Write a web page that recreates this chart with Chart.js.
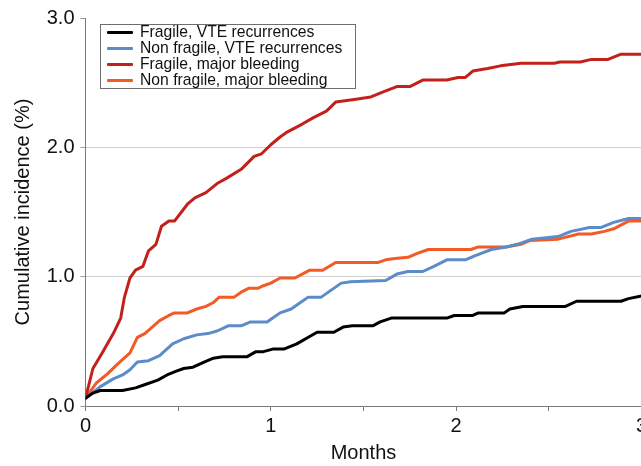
<!DOCTYPE html>
<html>
<head>
<meta charset="utf-8">
<script src="https://cdn.jsdelivr.net/npm/chart.js@4/dist/chart.umd.min.js"></script>
<style>
  html, body { margin: 0; padding: 0; background: #fff; overflow: hidden; }
  #wrap { position: relative; width: 650px; height: 466px; }
  #legend {
    position: absolute; left: 100px; top: 24px; width: 254px; height: 63px;
    border: 1px solid #6e6e6e; background: #fff;
    font-family: "Liberation Sans", Arial, Helvetica, sans-serif; font-size: 15.7px;
    line-height: 16px; color: #111; box-sizing: content-box;
  }
  #legend .row { position: relative; height: 16px; white-space: nowrap; }
  #legend .sw { position: absolute; left: 6px; top: 6px; width: 26px; height: 3px; border-radius: 1px; }
  #legend .tx { position: absolute; left: 39px; top: -1px; }
</style>
</head>
<body>
<div id="wrap">
  <canvas id="c"></canvas>
  <div id="legend"></div>
</div>
<script>
// ---- data ----
const seriesLabels = [
  "Fragile, VTE recurrences",
  "Non fragile, VTE recurrences",
  "Fragile, major bleeding",
  "Non fragile, major bleeding"
];
const seriesColors = ["#000000", "#5b8cc8", "#c3201b", "#f25a26"];

const fragileVteMonths = [0, 0.04, 0.08, 0.20, 0.27, 0.33, 0.39, 0.44, 0.49, 0.53, 0.58, 0.64, 0.69, 0.74, 0.87, 0.92, 0.96, 1.01, 1.07, 1.14, 1.20, 1.25, 1.34, 1.39, 1.44, 1.55, 1.59, 1.65, 1.95, 1.99, 2.09, 2.12, 2.26, 2.29, 2.36, 2.59, 2.65, 2.89, 2.93, 3.00];
const fragileVteValues = [0.06, 0.10, 0.12, 0.12, 0.14, 0.17, 0.20, 0.24, 0.27, 0.29, 0.30, 0.34, 0.37, 0.38, 0.38, 0.42, 0.42, 0.44, 0.44, 0.48, 0.53, 0.57, 0.57, 0.61, 0.62, 0.62, 0.65, 0.68, 0.68, 0.70, 0.70, 0.72, 0.72, 0.75, 0.77, 0.77, 0.81, 0.81, 0.83, 0.85];

const nonFragileVteMonths = [0, 0.08, 0.15, 0.20, 0.24, 0.28, 0.34, 0.40, 0.47, 0.53, 0.60, 0.66, 0.71, 0.77, 0.84, 0.89, 0.98, 1.01, 1.05, 1.11, 1.16, 1.20, 1.27, 1.32, 1.38, 1.43, 1.62, 1.68, 1.74, 1.82, 1.88, 1.95, 2.05, 2.10, 2.19, 2.27, 2.33, 2.41, 2.55, 2.62, 2.72, 2.78, 2.85, 2.93, 3.00];
const nonFragileVteValues = [0.06, 0.15, 0.21, 0.24, 0.28, 0.34, 0.35, 0.39, 0.48, 0.52, 0.55, 0.56, 0.58, 0.62, 0.62, 0.65, 0.65, 0.68, 0.72, 0.75, 0.80, 0.84, 0.84, 0.89, 0.95, 0.96, 0.97, 1.02, 1.04, 1.04, 1.08, 1.13, 1.13, 1.16, 1.21, 1.23, 1.25, 1.29, 1.31, 1.35, 1.38, 1.38, 1.42, 1.45, 1.45];

const fragileBleedMonths = [0, 0.04, 0.09, 0.15, 0.19, 0.21, 0.24, 0.27, 0.31, 0.34, 0.38, 0.41, 0.45, 0.48, 0.55, 0.59, 0.65, 0.71, 0.76, 0.84, 0.91, 0.95, 1.00, 1.05, 1.09, 1.17, 1.23, 1.30, 1.35, 1.45, 1.54, 1.61, 1.68, 1.75, 1.82, 1.95, 2.01, 2.05, 2.09, 2.17, 2.24, 2.35, 2.53, 2.56, 2.67, 2.73, 2.82, 2.89, 3.00];
const fragileBleedValues = [0.06, 0.29, 0.41, 0.56, 0.68, 0.84, 0.99, 1.05, 1.08, 1.20, 1.25, 1.39, 1.43, 1.43, 1.56, 1.61, 1.65, 1.72, 1.76, 1.83, 1.93, 1.95, 2.02, 2.08, 2.12, 2.18, 2.23, 2.28, 2.35, 2.37, 2.39, 2.43, 2.47, 2.47, 2.52, 2.52, 2.54, 2.54, 2.59, 2.61, 2.63, 2.65, 2.65, 2.66, 2.66, 2.68, 2.68, 2.72, 2.72];

const nonFragileBleedMonths = [0, 0.06, 0.12, 0.17, 0.24, 0.28, 0.32, 0.36, 0.40, 0.45, 0.48, 0.55, 0.60, 0.65, 0.69, 0.72, 0.80, 0.84, 0.88, 0.93, 0.96, 1.00, 1.05, 1.13, 1.21, 1.28, 1.35, 1.58, 1.62, 1.67, 1.74, 1.79, 1.85, 2.08, 2.12, 2.27, 2.35, 2.40, 2.55, 2.66, 2.73, 2.80, 2.85, 2.93, 3.00];
const nonFragileBleedValues = [0.06, 0.18, 0.25, 0.32, 0.41, 0.53, 0.56, 0.61, 0.66, 0.70, 0.72, 0.72, 0.75, 0.77, 0.80, 0.84, 0.84, 0.88, 0.91, 0.91, 0.93, 0.95, 0.99, 0.99, 1.05, 1.05, 1.11, 1.11, 1.13, 1.14, 1.15, 1.18, 1.21, 1.21, 1.23, 1.23, 1.25, 1.28, 1.29, 1.33, 1.33, 1.35, 1.37, 1.43, 1.43];

const yTickValues = [0, 1, 2, 3];
const xAxisTitle = "Months";
const yAxisTitle = "Cumulative incidence (%)";

// ---- build chart ----
function pts(xs, ys) { return xs.map((x, i) => ({ x: x, y: ys[i] })); }
const seriesData = [
  pts(fragileVteMonths, fragileVteValues),
  pts(nonFragileVteMonths, nonFragileVteValues),
  pts(fragileBleedMonths, fragileBleedValues),
  pts(nonFragileBleedMonths, nonFragileBleedValues)
];

const FONT = "'Liberation Sans', Arial, Helvetica, sans-serif";
const AXIS = "#7a7a7a";

const datasets = seriesLabels.map((lab, i) => ({
  label: lab,
  data: seriesData[i],
  borderColor: seriesColors[i],
  backgroundColor: seriesColors[i],
  borderWidth: 3,
  pointRadius: 0,
  tension: 0,
  fill: false,
  borderJoinStyle: 'round',
  borderCapStyle: 'round'
}));

const chart = new Chart(document.getElementById('c'), {
  type: 'line',
  data: { datasets: datasets },
  options: {
    responsive: true,
    maintainAspectRatio: false,
    animation: false,
    layout: { padding: { top: 17, right: 0, left: 0, bottom: 0 } },
    plugins: { legend: { display: false }, tooltip: { enabled: false } },
    scales: {
      x: {
        type: 'linear',
        min: 0, max: 3,
        afterFit: s => { s.height = 60; },
        ticks: {
          stepSize: 0.5, autoSkip: false, maxRotation: 0,
          padding: 3,
          color: '#111',
          font: { family: FONT, size: 20 },
          callback: v => (Number.isInteger(v) ? String(v) : '')
        },
        grid: { drawOnChartArea: false, drawTicks: true, tickLength: 5, color: AXIS, tickColor: AXIS },
        border: { display: true, color: AXIS, width: 1 },
        title: { display: true, text: xAxisTitle, color: '#111', font: { family: FONT, size: 20 }, padding: { top: 0, bottom: 1 } }
      },
      y: {
        type: 'linear',
        min: 0, max: 3,
        afterFit: s => { s.width = 85.5; },
        afterBuildTicks: s => { s.ticks = yTickValues.map(v => ({ value: v })); },
        ticks: {
          padding: 6,
          color: '#111',
          font: { family: FONT, size: 20 },
          callback: v => Number(v).toFixed(1)
        },
        grid: {
          drawTicks: true, tickLength: 5,
          color: c => (c.tick && (c.tick.value === 1 || c.tick.value === 2)) ? '#cfcfcf' : 'rgba(0,0,0,0)',
          tickColor: AXIS,
          borderDash: [2, 2],
          tickBorderDash: [1, 0],
          lineWidth: 1
        },
        border: { display: true, color: AXIS, width: 1 },
        title: { display: true, text: yAxisTitle, color: '#111', font: { family: FONT, size: 20 }, padding: { top: 11, bottom: 0 } }
      }
    }
  }
});

// ---- legend as HTML text, built from the datasets ----
const legendEl = document.getElementById('legend');
chart.data.datasets.forEach(ds => {
  const row = document.createElement('div');
  row.className = 'row';
  const sw = document.createElement('span');
  sw.className = 'sw';
  sw.style.background = ds.borderColor;
  const tx = document.createElement('span');
  tx.className = 'tx';
  tx.textContent = ds.label;
  row.appendChild(sw);
  row.appendChild(tx);
  legendEl.appendChild(row);
});
</script>
</body>
</html>
